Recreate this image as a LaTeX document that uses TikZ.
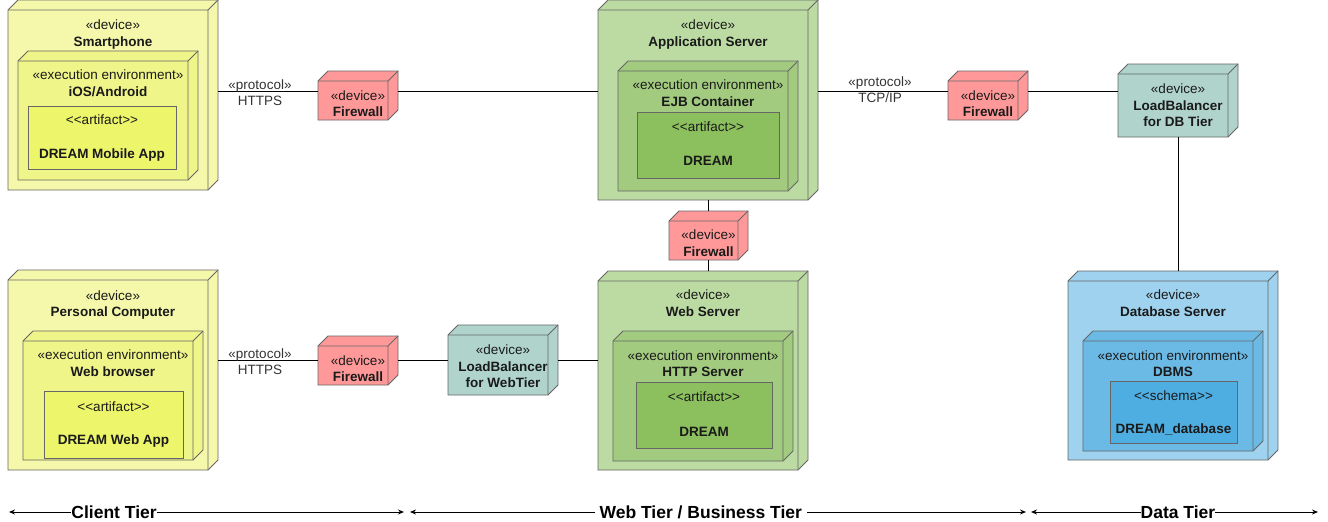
\documentclass[tikz,border=0pt]{standalone}
\usepackage{fontspec}
\setmainfont{Liberation Sans}
\usetikzlibrary{calc,arrows.meta}
\definecolor{edge}{HTML}{666666}
\definecolor{yelO}{HTML}{F5F8AA}
\definecolor{yelM}{HTML}{F0F58A}
\definecolor{yelI}{HTML}{EDF56A}
\definecolor{grnO}{HTML}{BCDBA3}
\definecolor{grnM}{HTML}{A2CB7F}
\definecolor{grnI}{HTML}{8CBF5D}
\definecolor{bluO}{HTML}{9ED2EE}
\definecolor{bluM}{HTML}{6BBAE5}
\definecolor{bluI}{HTML}{4FAEE1}
\definecolor{fwc}{HTML}{FF9999}
\definecolor{lbc}{HTML}{B0D4CC}
\definecolor{txt}{HTML}{1A1A1A}
\definecolor{ptxt}{HTML}{333333}
\tikzset{
  boxline/.style={draw=edge,line width=0.9pt,line join=miter},
  lbl/.style={inner sep=0pt,outer sep=0pt,text height=9.6pt,text depth=0pt,anchor=center,text=txt,font=\fontsize{13.5}{16}\selectfont},
  blbl/.style={lbl,font=\fontsize{13.5}{16}\selectfont\bfseries},
  plabel/.style={lbl,text=ptxt,fill=white,inner xsep=1pt,inner ysep=1pt},
  conn/.style={draw=black,line width=1pt},
  tier/.style={draw=black,line width=1pt,{Stealth[length=6pt,width=5pt]}-{Stealth[length=6pt,width=5pt]}},
  tierlbl/.style={fill=white,inner ysep=1pt,inner xsep=0pt,text=black,font=\fontsize{17.5}{20}\selectfont\bfseries}
}
% name, x1, y1 (back top), x2 (back right), y2 (bottom), depth, fill
\newcommand\cubenode[7]{%
  \filldraw[boxline,fill=#7] (#2,#3+#6) -- (#2+#6,#3) -- (#4,#3) -- (#4,#5-#6) -- (#4-#6,#5) -- (#2,#5) -- cycle;
  \draw[boxline] (#2,#3+#6) -- (#4-#6,#3+#6) -- (#4,#3) (#4-#6,#3+#6) -- (#4-#6,#5);
  \node[inner sep=0pt,outer sep=0pt,minimum width=#4-#2,minimum height=#5-#3] (#1) at ({(#2+#4)/2},{(#3+#5)/2}) {};
}
% name, x1, y1, x2, y2, fill
\newcommand\flatnode[6]{%
  \node[boxline,fill=#6,inner sep=0pt,outer sep=0pt,minimum width=#4-#2,minimum height=#5-#3] (#1) at ({(#2+#4)/2},{(#3+#5)/2}) {};
}
\newcommand\artf{<\kern0pt<artifact>\kern0pt>}
\newcommand\schm{<\kern0pt<schema>\kern0pt>}
\begin{document}
\begin{tikzpicture}[x=1pt,y=-1pt]
\useasboundingbox[fill=white] (0,0) rectangle (1328,522);
\coordinate (rowA) at (0,91);
\coordinate (rowB) at (0,360);

% ---------- client tier ----------
\cubenode{smart}{8}{0}{218}{190}{10}{yelO}
\cubenode{ios}{18}{51}{198}{180}{10}{yelM}
\flatnode{art1}{28}{106}{176}{169}{yelI}
\node[lbl] (smart-s) at (113,25) {«device»};
\node[blbl] (smart-n) at (113,42) {Smartphone};
\node[lbl] (ios-s) at (108,75) {«execution environment»};
\node[blbl] (ios-n) at (108,92) {iOS/Android};
\node[lbl] (art1-s) at (102,120) {\artf};
\node[blbl] (art1-n) at (102,154) {DREAM Mobile App};

\cubenode{pc}{8}{270}{218}{470}{10}{yelO}
\cubenode{web}{23}{331}{203}{460}{10}{yelM}
\flatnode{art3}{44}{391}{183}{458}{yelI}
\node[lbl] (pc-s) at (113,296) {«device»};
\node[blbl] (pc-n) at (113,312) {Personal Computer};
\node[lbl] (web-s) at (113,355) {«execution environment»};
\node[blbl] (web-n) at (113,372) {Web browser};
\node[lbl] (art3-s) at (113.5,407) {\artf};
\node[blbl] (art3-n) at (113.5,440) {DREAM Web App};

% ---------- firewalls & load balancers ----------
\cubenode{fw1}{318}{71}{398}{120}{10}{fwc}
\node[lbl] (fw1-s) at (358,96) {«device»};
\node[blbl] (fw1-n) at (358,112) {Firewall};
\cubenode{fw2}{669}{211}{748}{260}{10}{fwc}
\node[lbl] (fw2-s) at (708.5,235) {«device»};
\node[blbl] (fw2-n) at (708.5,252) {Firewall};
\cubenode{fw3}{948}{71}{1028}{120}{10}{fwc}
\node[lbl] (fw3-s) at (988,96) {«device»};
\node[blbl] (fw3-n) at (988,112) {Firewall};
\cubenode{fw4}{318}{336}{398}{385}{10}{fwc}
\node[lbl] (fw4-s) at (358,361) {«device»};
\node[blbl] (fw4-n) at (358,377) {Firewall};

\cubenode{lbdb}{1118}{64}{1238}{137}{10}{lbc}
\node[lbl] (lbdb-s) at (1178,89) {«device»};
\node[blbl] (lbdb-n1) at (1178,106) {LoadBalancer};
\node[blbl] (lbdb-n2) at (1178,122) {for DB Tier};
\cubenode{lbweb}{448}{325}{558}{395}{10}{lbc}
\node[lbl] (lbweb-s) at (503,350) {«device»};
\node[blbl] (lbweb-n1) at (503,367) {LoadBalancer};
\node[blbl] (lbweb-n2) at (503,383) {for WebTier};

% ---------- web / business tier ----------
\cubenode{app}{598}{0}{818}{200}{10}{grnO}
\cubenode{ejb}{618}{61}{798}{191}{10}{grnM}
\flatnode{art2}{637}{112}{779}{178}{grnI}
\node[lbl] (app-s) at (708,25) {«device»};
\node[blbl] (app-n) at (708,42) {Application Server};
\node[lbl] (ejb-s) at (708,85) {«execution environment»};
\node[blbl] (ejb-n) at (708,102) {EJB Container};
\node[lbl] (art2-s) at (708,127) {\artf};
\node[blbl] (art2-n) at (708,161) {DREAM};

\cubenode{wsrv}{598}{271}{808}{470}{10}{grnO}
\cubenode{http}{613}{331}{793}{461}{10}{grnM}
\flatnode{art4}{636}{382}{772}{448}{grnI}
\node[lbl] (wsrv-s) at (703,295) {«device»};
\node[blbl] (wsrv-n) at (703,312) {Web Server};
\node[lbl] (http-s) at (703,356) {«execution environment»};
\node[blbl] (http-n) at (703,372) {HTTP Server};
\node[lbl] (art4-s) at (704,397) {\artf};
\node[blbl] (art4-n) at (704,432) {DREAM};

% ---------- data tier ----------
\cubenode{dbs}{1068}{271}{1278}{460}{10}{bluO}
\cubenode{dbms}{1083}{331}{1263}{451}{10}{bluM}
\flatnode{sch}{1110}{381}{1237}{443}{bluI}
\node[lbl] (dbs-s) at (1173,295) {«device»};
\node[blbl] (dbs-n) at (1173,312) {Database Server};
\node[lbl] (dbms-s) at (1173,356) {«execution environment»};
\node[blbl] (dbms-n) at (1173,372) {DBMS};
\node[lbl] (sch-s) at (1173.5,396) {\schm};
\node[blbl] (sch-n) at (1173.5,429) {DREAM\_database};

% ---------- connectors ----------
\draw[conn] (smart.east |- rowA) -- (fw1.west |- rowA);
\draw[conn] (fw1.east |- rowA) -- (app.west |- rowA);
\draw[conn] (app.east |- rowA) -- (fw3.west |- rowA);
\draw[conn] (fw3.east |- rowA) -- (lbdb.west |- rowA);
\draw[conn] (lbdb.south) -- (lbdb.south |- dbs.north);
\draw[conn] (app.south) -- (app.south |- fw2.north);
\draw[conn] (fw2.south) -- (fw2.south |- wsrv.north);
\draw[conn] (pc.east |- rowB) -- (fw4.west |- rowB);
\draw[conn] (fw4.east |- rowB) -- (lbweb.west |- rowB);
\draw[conn] (lbweb.east |- rowB) -- (wsrv.west |- rowB);

\node[plabel] (pr1-s) at (260,85) {«protocol»};
\node[plabel,fill=none] (pr1-n) at (260,101) {HTTPS};
\node[plabel] (pr2-s) at (880,82) {«protocol»};
\node[plabel,fill=none] (pr2-n) at (880,98) {TCP/IP};
\node[plabel] (pr3-s) at (260,354) {«protocol»};
\node[plabel,fill=none] (pr3-n) at (260,370) {HTTPS};

% ---------- tiers ----------
\coordinate (t1a) at (9,512);
\coordinate (t1b) at (404,512);
\coordinate (t2a) at (410,512);
\coordinate (t2b) at (1026,512);
\coordinate (t3a) at (1031,512);
\coordinate (t3b) at (1318,512);
\draw[tier] (t1a) -- node[tierlbl,pos=0.266] (tier1) {Client Tier} (t1b);
\draw[tier] (t2a) -- node[tierlbl,pos=0.472,inner xsep=5pt] (tier2) {Web Tier / Business Tier} (t2b);
\draw[tier] (t3a) -- node[tierlbl,pos=0.512] (tier3) {Data Tier} (t3b);
\end{tikzpicture}
\end{document}
